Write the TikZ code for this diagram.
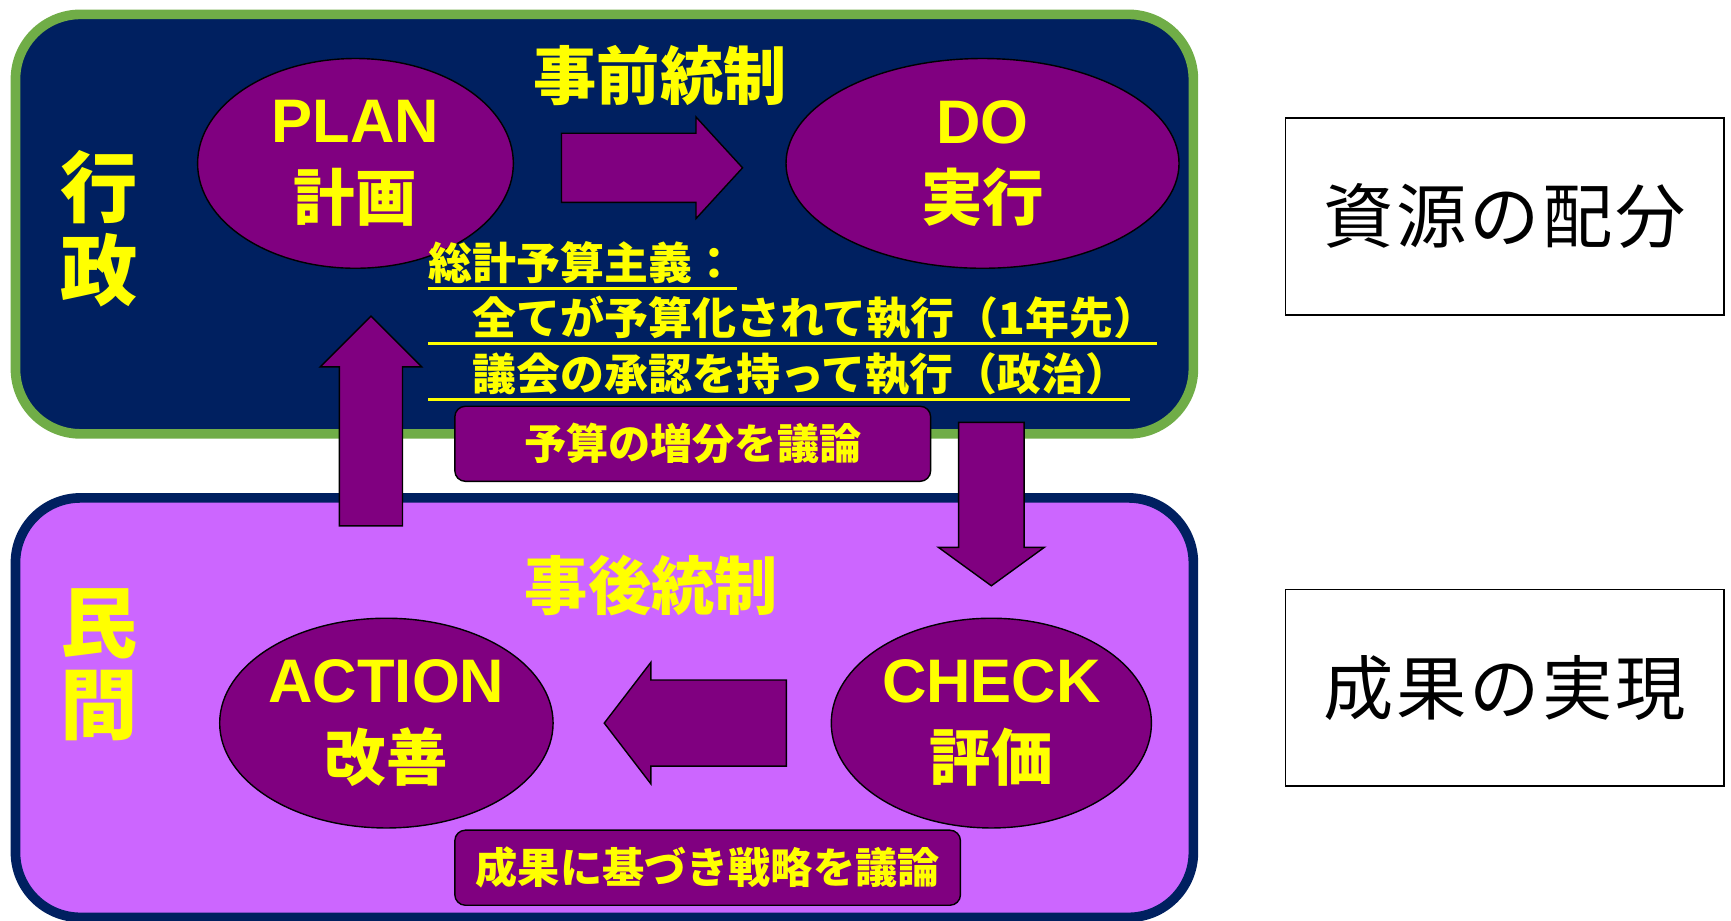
\documentclass[tikz,border=0pt]{standalone}
\usepackage{fontspec}
\setmainfont{Liberation Sans}
\newfontfamily\jp{Noto Sans CJK JP}
\usepackage{tikz}
\usetikzlibrary{shapes.geometric, shapes.arrows, calc}
\definecolor{navy}{HTML}{002060}
\definecolor{leafgreen}{HTML}{70AD47}
\definecolor{lilac}{HTML}{CC66FF}
\definecolor{plum}{HTML}{800080}
\definecolor{lemon}{HTML}{FFFF00}
\newlength\pxu
\setlength\pxu{0.02208cm}
\tikzstyle{panel} = [rectangle, rounded corners=1.3cm, line width=5.5pt, minimum width=1067*\pxu, minimum height=380*\pxu]
\tikzstyle{stage} = [ellipse, draw=black, line width=0.8pt, fill=plum, text=lemon, align=center, inner sep=0pt, font=\fontsize{35}{44}\selectfont\bfseries]
\tikzstyle{fatarrow} = [single arrow, draw=black, line width=0.8pt, fill=plum, anchor=tail]
\tikzstyle{debate} = [rectangle, rounded corners=6pt, draw=black, line width=0.8pt, fill=plum, text=lemon, minimum height=68*\pxu, font=\jp\fontsize{24}{30}\selectfont\bfseries]
\tikzstyle{result} = [rectangle, draw=black, line width=1pt, fill=white, minimum width=397*\pxu, minimum height=178*\pxu, font=\jp\fontsize{40}{44}\selectfont\addfontfeature{LetterSpace=4}]
\tikzstyle{heading} = [text=lemon, font=\jp\fontsize{36}{40}\selectfont\bfseries]
\tikzstyle{side} = [text=lemon, align=center, font=\jp\fontsize{44}{47}\selectfont\bfseries]
\tikzstyle{budget} = [text=lemon, anchor=base west, inner sep=0pt, font=\jp\fontsize{25}{30}\selectfont\bfseries]
\tikzstyle{uline} = [draw=lemon, line width=1.7pt]

\begin{document}
\begin{tikzpicture}[x=\pxu, y=-\pxu]
    \useasboundingbox (0,0) rectangle (1568,834);
    % panels
    \node (gyosei) [panel, draw=leafgreen, fill=navy] at (547.5,203) {};
    \node (minkan) [panel, draw=navy, fill=lilac] at (547.5,641) {};
    \node (gyolabel) [side] at (90,207) {行\\政};
    \node (minlabel) [side] at (90,602) {民\\間};
    \node (jizen) [heading] at (598,68) {事前統制};
    \node (jigo) [heading] at (590,530) {事後統制};

    % PDCA
    \node (plan) [stage, minimum width=286*\pxu, minimum height=190*\pxu] at (322,148) {PLAN\\{\jp 計画}};
    \node (do) [stage, minimum width=356*\pxu, minimum height=190*\pxu] at (890,148) {DO\\{\jp 実行}};
    \node (check) [stage, minimum width=290*\pxu, minimum height=190*\pxu] at (898,655) {CHECK\\{\jp 評価}};
    \node (action) [stage, minimum width=286*\pxu, minimum height=190*\pxu] at (350,655) {ACTION\\{\jp 改善}};

    % budget text
    \node (line1) [budget] at (388,253) {総計予算主義：};
    \node (line2) [budget] at (388,303) {　全てが予算化されて執行（1年先）};
    \node (line3) [budget] at (388,354) {　議会の承認を持って執行（政治）};
    \draw [uline] ($(line1.base west)+(0,8)$) -- ($(line1.base east)+(0,8)$);
    \draw [uline] ($(line2.base west)+(0,8)$) -- ($(line2.base east)+(0,8)$);
    \draw [uline] ($(line3.base west)+(0,8)$) -- ($(line3.base east)+(0,8)$);

    % arrows
    \node (toDo) [fatarrow, inner xsep=0pt, inner ysep=23.5*\pxu, minimum height=164*\pxu, minimum width=92*\pxu, single arrow tip angle=95] at (508,152) {};
    \node (toCheck) [fatarrow, inner ysep=0pt, inner xsep=17.7*\pxu, minimum height=148*\pxu, minimum width=96*\pxu, single arrow tip angle=108, shape border rotate=270] at (898,382) {};
    \node (toAction) [fatarrow, inner xsep=0pt, inner ysep=27*\pxu, minimum height=165*\pxu, minimum width=110*\pxu, single arrow tip angle=105, shape border rotate=180] at (713,655) {};
    \node (toPlan) [fatarrow, inner ysep=0pt, inner xsep=18*\pxu, minimum height=190*\pxu, minimum width=92*\pxu, single arrow tip angle=90, shape border rotate=90] at (336,477) {};

    % debate boxes
    \node (zobun) [debate, minimum width=431*\pxu] at (627.5,402) {予算の増分を議論};
    \node (senryaku) [debate, minimum width=458*\pxu] at (641,786) {成果に基づき戦略を議論};

    % right boxes
    \node (haibun) [result] at (1363,196) {資源の配分};
    \node (jitsugen) [result] at (1363,623) {成果の実現};
\end{tikzpicture}
\end{document}
